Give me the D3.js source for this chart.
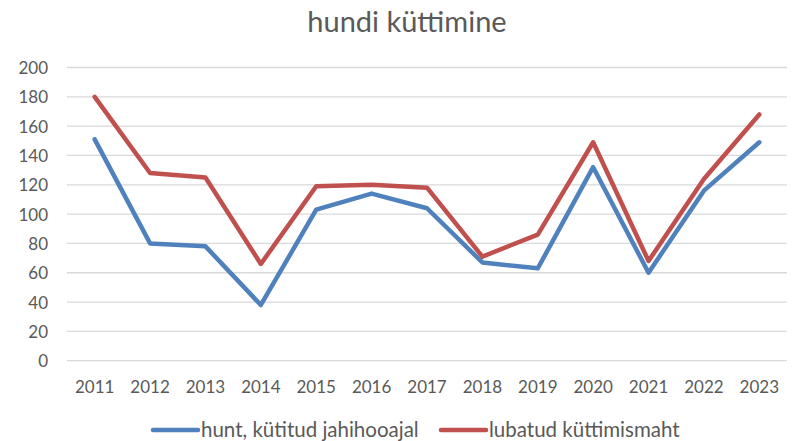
<!DOCTYPE html>
<html>
<head>
<meta charset="utf-8">
<script src="https://cdn.jsdelivr.net/npm/d3@7"></script>
<style>
  body { margin: 0; background: #fff; }
  text { font-family: Lato, "Open Sans", sans-serif; fill: #595959; }
</style>
</head>
<body>
<svg id="chart"></svg>
<script>
let years = ["2011","2012","2013","2014","2015","2016","2017","2018","2019","2020","2021","2022","2023"];
let hunted = [151, 80, 78, 38, 103, 114, 104, 67, 63, 132, 60, 116, 149];
let allowed = [180, 128, 125, 66, 119, 120, 118, 71, 86, 149, 68, 124, 168];
let yTicks = [0, 20, 40, 60, 80, 100, 120, 140, 160, 180, 200];
let seriesNames = ["hunt, kütitud jahihooajal", "lubatud küttimismaht"];
let colors = ["#4f81bd", "#c0504d"];

let w = 797, h = 441;
let plotLeft = 67, plotRight = 787, plotTop = 67.5, plotBottom = 360.7;

let svg = d3.select("#chart").attr("width", w).attr("height", h);

let x = d3.scaleBand().domain(years).range([plotLeft, plotRight]);
let y = d3.scaleLinear().domain([0, 200]).range([plotBottom, plotTop]);

svg.append("text")
   .attr("x", 407)
   .attr("y", 32)
   .attr("text-anchor", "middle")
   .attr("font-size", "29px")
   .text("hundi küttimine");

// grid
svg.selectAll(".grid")
   .data(yTicks)
   .enter()
   .append("line")
   .attr("x1", plotLeft)
   .attr("x2", plotRight)
   .attr("y1", d => y(d))
   .attr("y2", d => y(d))
   .attr("stroke", "#d9d9d9")
   .attr("stroke-width", 1.3);

let yAxis = svg.append("g")
   .attr("transform", `translate(${plotLeft - 19},0)`)
   .call(d3.axisLeft(y).tickValues(yTicks).tickSize(0).tickPadding(0));
yAxis.select(".domain").remove();
yAxis.selectAll("text").attr("font-size", "17px").attr("fill", "#595959")
     .style("font-family", "Lato, sans-serif").attr("dy", "0.35em");

let xAxis = svg.append("g")
   .attr("transform", `translate(0,393)`)
   .call(d3.axisBottom(x).tickSize(0).tickPadding(0));
xAxis.select(".domain").remove();
xAxis.selectAll("text").attr("font-size", "17px").attr("fill", "#595959")
     .attr("y", 0).attr("dy", 0)
     .style("font-family", "Lato, sans-serif");

let line = d3.line()
   .x((d, i) => x(years[i]) + x.bandwidth() / 2)
   .y(d => y(d));

[hunted, allowed].forEach((s, k) => {
  svg.append("path")
     .datum(s)
     .attr("d", line)
     .attr("fill", "none")
     .attr("stroke", colors[k])
     .attr("stroke-width", 4.5)
     .attr("stroke-linejoin", "round")
     .attr("stroke-linecap", "round");
});

// legend
let legendX = [153, 441];
let legend = svg.selectAll(".legend")
   .data(seriesNames)
   .enter()
   .append("g")
   .attr("transform", (d, i) => `translate(${legendX[i]},430)`);
legend.append("line")
   .attr("x1", 0).attr("x2", 45)
   .attr("stroke", (d, i) => colors[i])
   .attr("stroke-width", 4.5)
   .attr("stroke-linecap", "round");
legend.append("text")
   .attr("x", 48)
   .attr("dy", "0.35em")
   .attr("font-size", "20.5px")
   .text(d => d);
</script>
</body>
</html>
